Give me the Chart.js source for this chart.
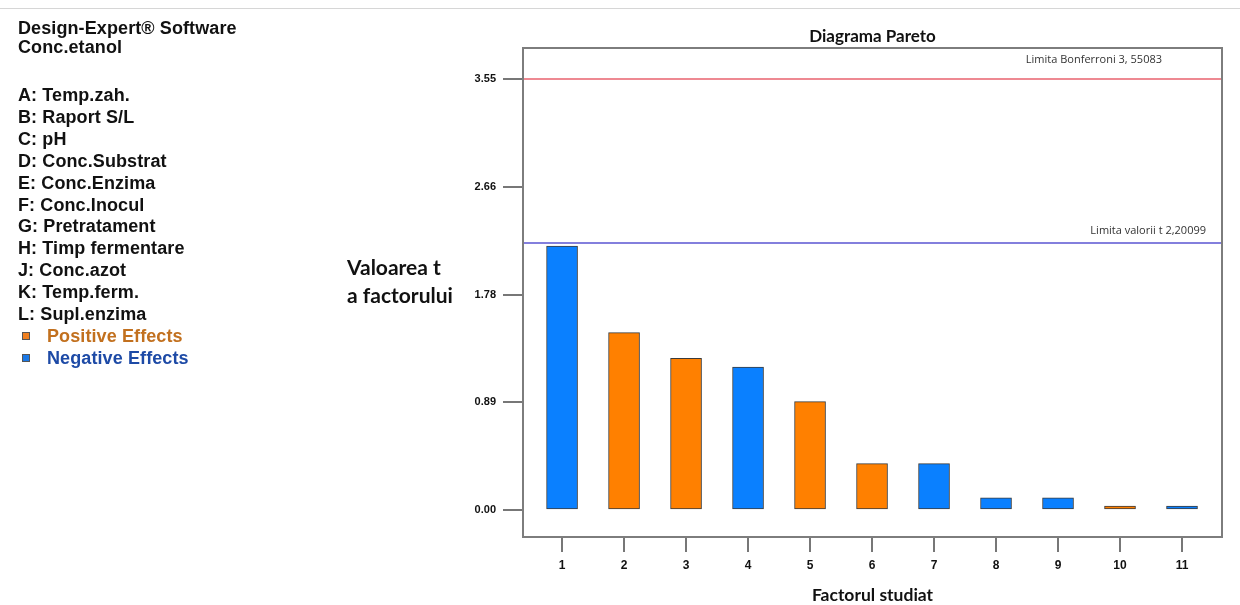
<!DOCTYPE html>
<html>
<head>
<meta charset="utf-8">
<script src="https://cdn.jsdelivr.net/npm/chart.js@4.4.1/dist/chart.umd.min.js"></script>
<style>
  html, body { margin: 0; padding: 0; background: #fff; }
  #wrap { position: relative; width: 1240px; height: 605px; overflow: hidden; }
  #topRule { position: absolute; left: 0; top: 8px; width: 1240px; height: 0; border-top: 1px solid #d6d6d6; }
  #side { position: absolute; left: 0; top: 0; font-family: "Liberation Sans", Arial, sans-serif;
          font-weight: bold; font-size: 18px; color: #111; letter-spacing: 0.1px; }
  #side div { position: absolute; left: 18px; white-space: nowrap; line-height: 20px; }
  #side .sw { display: inline-block; width: 8px; height: 8px; margin-right: 21px; position: relative; top: -2px; left: 4px;
              border: 1px solid #555; box-sizing: border-box; }
  canvas { position: absolute; left: 0; top: 0; }
</style>
</head>
<body>
<div id="wrap">
  <div id="topRule"></div>
  <canvas id="pareto" width="1240" height="605"></canvas>
  <div id="side"></div>
</div>
<script>
// Factor rank on the x axis and the absolute t value of each effect
const categories = ['1', '2', '3', '4', '5', '6', '7', '8', '9', '10', '11'];
const tValues = [2.175, 1.461, 1.250, 1.178, 0.893, 0.382, 0.382, 0.101, 0.101, 0.033, 0.033];
const effectSigns = ['neg', 'pos', 'pos', 'neg', 'pos', 'pos', 'neg', 'neg', 'neg', 'pos', 'neg'];

// y axis ticks and their printed labels
const yTickValues = [0, 0.8875, 1.775, 2.6625, 3.55];
const yTickLabels = ['0.00', '0.89', '1.78', '2.66', '3.55'];

// significance limits
const bonferroniLimit = 3.55083;
const bonferroniLabel = 'Limita Bonferroni 3, 55083';
const tLimit = 2.20099;
const tLimitLabel = 'Limita valorii t 2,20099';

// factor list shown beside the chart
const headerLines = ['Design-Expert\u00AE Software', 'Conc.etanol'];
const factorNames = ['A: Temp.zah.', 'B: Raport S/L', 'C: pH', 'D: Conc.Substrat', 'E: Conc.Enzima',
  'F: Conc.Inocul', 'G: Pretratament', 'H: Timp fermentare', 'J: Conc.azot', 'K: Temp.ferm.', 'L: Supl.enzima'];
const effectLegend = [
  { key: 'pos', text: 'Positive Effects' },
  { key: 'neg', text: 'Negative Effects' }
];

const chartTitle = 'Diagrama Pareto';
const xTitle = 'Factorul studiat';
const yTitleLines = ['Valoarea t', 'a factorului'];

const fillColors = { pos: '#ff8000', neg: '#0a80ff' };
const legendTextColors = { pos: '#c2701e', neg: '#1d4aa6' };
const legendSwatch = { pos: '#f08020', neg: '#1a78e6' };

// ----- side panel -----
const side = document.getElementById('side');
function addLine(html, top, color) {
  const d = document.createElement('div');
  d.style.top = top + 'px';
  if (color) d.style.color = color;
  d.innerHTML = html;
  side.appendChild(d);
}
addLine(headerLines[0], 18);
addLine(headerLines[1], 37);
factorNames.forEach((t, i) => addLine(t, 85 + i * 21.9));
effectLegend.forEach((e, i) => {
  const top = 85 + (factorNames.length + i) * 21.9;
  addLine('<span class="sw" style="background:' + legendSwatch[e.key] + '"></span>' + e.text, top, legendTextColors[e.key]);
});

// ----- frame, limit lines and titles -----
const paretoDecor = {
  id: 'paretoDecor',
  afterDatasetsDraw(chart) {
    const { ctx, chartArea: a, scales } = chart;
    ctx.save();
    // limit lines
    const yB = scales.y.getPixelForValue(bonferroniLimit);
    const yT = scales.y.getPixelForValue(tLimit);
    ctx.lineWidth = 1.5;
    ctx.strokeStyle = '#e8626e';
    ctx.beginPath(); ctx.moveTo(a.left, yB); ctx.lineTo(a.right, yB); ctx.stroke();
    ctx.strokeStyle = '#5a55d2';
    ctx.beginPath(); ctx.moveTo(a.left, yT); ctx.lineTo(a.right, yT); ctx.stroke();

    // frame
    ctx.strokeStyle = '#7d7d7d';
    ctx.lineWidth = 2;
    ctx.strokeRect(a.left, a.top, a.right - a.left, a.bottom - a.top);

    // limit labels
    ctx.fillStyle = '#333';
    ctx.font = '11px "Open Sans", Lato, sans-serif';
    ctx.textAlign = 'right';
    ctx.textBaseline = 'middle';
    ctx.fillText(bonferroniLabel, a.right - 60, yB - 19);
    ctx.fillText(tLimitLabel, a.right - 16, yT - 12);

    // chart title
    ctx.fillStyle = '#111';
    ctx.textAlign = 'center';
    ctx.font = 'bold 17px Lato, "Open Sans", sans-serif';
    ctx.fillText(chartTitle, (a.left + a.right) / 2, 37);

    // x axis title
    ctx.font = 'bold 17.5px Lato, "Open Sans", sans-serif';
    ctx.fillText(xTitle, (a.left + a.right) / 2, 595);

    // y axis title, written horizontally
    ctx.textAlign = 'left';
    ctx.font = 'bold 21px Lato, "Open Sans", sans-serif';
    ctx.fillText(yTitleLines[0], 347, 268);
    ctx.fillText(yTitleLines[1], 347, 296);
    ctx.restore();
  }
};

new Chart(document.getElementById('pareto'), {
  type: 'bar',
  data: {
    datasets: [{
      data: categories.map((c, i) => ({ x: i + 1, y: tValues[i] })),
      backgroundColor: effectSigns.map(s => fillColors[s]),
      borderColor: '#3b3b3b',
      borderWidth: 1,
      borderSkipped: false,
      barThickness: 31
    }]
  },
  options: {
    responsive: false,
    animation: false,
    devicePixelRatio: 1,
    layout: { padding: { left: 0, top: 48, right: 18, bottom: 0 } },
    plugins: { legend: { display: false }, tooltip: { enabled: false }, title: { display: false } },
    scales: {
      x: {
        type: 'linear',
        offset: false,
        min: 0.37,
        max: 11.645,
        afterBuildTicks: (axis) => { axis.ticks = categories.map((c, i) => ({ value: i + 1 })); },
        afterFit: (axis) => { axis.height = 68; },
        border: { display: false },
        grid: { offset: false, drawOnChartArea: false, drawTicks: true, tickLength: 15, color: '#777', lineWidth: 2 },
        ticks: {
          autoSkip: false, maxRotation: 0, minRotation: 0, padding: 6, color: '#111',
          font: { family: '"Liberation Sans", Arial, sans-serif', weight: 'bold', size: 12 },
          callback: (v, i) => categories[i]
        }
      },
      y: {
        min: -0.2225,
        max: 3.807,
        afterBuildTicks: (axis) => { axis.ticks = yTickValues.map(v => ({ value: v })); },
        afterFit: (axis) => { axis.width = 523; },
        border: { display: false },
        grid: { drawOnChartArea: false, drawTicks: true, tickLength: 20, color: '#777', lineWidth: 2 },
        ticks: {
          padding: 7, color: '#111',
          font: { family: '"Liberation Sans", Arial, sans-serif', weight: 'bold', size: 11 },
          callback: (v, i) => yTickLabels[i]
        }
      }
    }
  },
  plugins: [paretoDecor]
});
</script>
</body>
</html>
